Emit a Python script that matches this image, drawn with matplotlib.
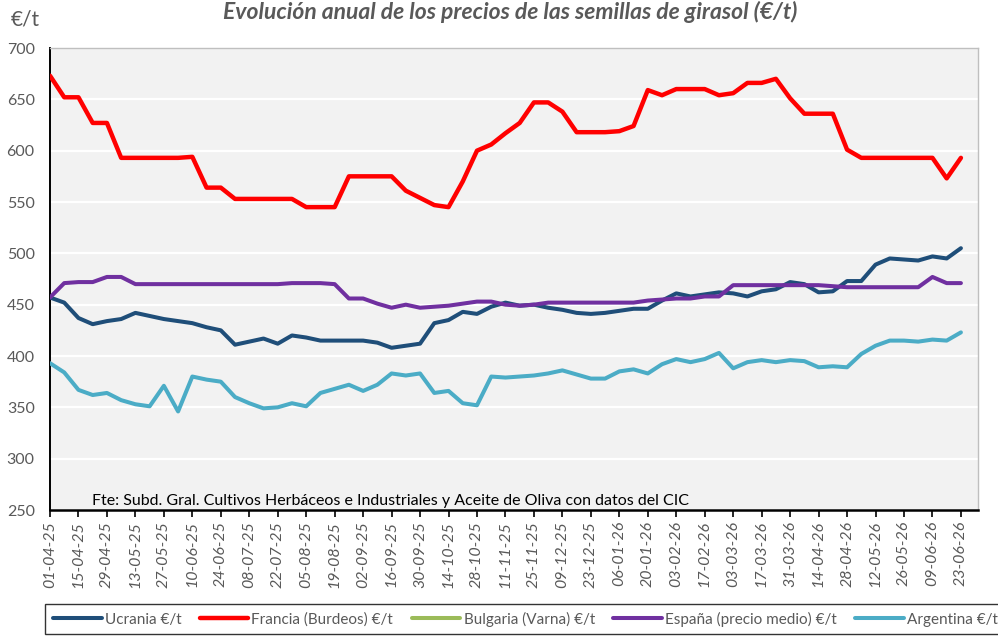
import matplotlib
matplotlib.use('Agg')
import matplotlib.pyplot as plt
import matplotlib.dates as mdates
import pandas as pd

# weekly quotes, 01-04-25 .. 23-06-26
fechas = pd.date_range('2025-04-01', periods=65, freq='7D')

ucrania = [457, 452, 437, 431, 434, 436, 442, 439, 436, 434, 432, 428, 425,
           411, 414, 417, 412, 420, 418, 415, 415, 415, 415, 413, 408, 410,
           412, 432, 435, 443, 441, 448, 452, 449, 450, 447, 445, 442, 441,
           442, 444, 446, 446, 454, 461, 458, 460, 462, 461, 458, 463, 465,
           472, 470, 462, 463, 473, 473, 489, 495, 494, 493, 497, 495, 505]
francia = [673, 652, 652, 627, 627, 593, 593, 593, 593, 593, 594, 564, 564,
           553, 553, 553, 553, 553, 545, 545, 545, 575, 575, 575, 575, 561,
           554, 547, 545, 570, 600, 606, 617, 627, 647, 647, 638, 618, 618,
           618, 619, 624, 659, 654, 660, 660, 660, 654, 656, 666, 666, 670,
           651, 636, 636, 636, 601, 593, 593, 593, 593, 593, 593, 573, 593]
bulgaria = []  # sin cotizaciones en el periodo
espana = [457, 471, 472, 472, 477, 477, 470, 470, 470, 470, 470, 470, 470,
          470, 470, 470, 470, 471, 471, 471, 470, 456, 456, 451, 447, 450,
          447, 448, 449, 451, 453, 453, 450, 449, 450, 452, 452, 452, 452,
          452, 452, 452, 454, 455, 456, 456, 458, 458, 469, 469, 469, 469,
          469, 469, 469, 468, 467, 467, 467, 467, 467, 467, 477, 471, 471]
argentina = [393, 384, 367, 362, 364, 357, 353, 351, 371, 346, 380, 377, 375,
             360, 354, 349, 350, 354, 351, 364, 368, 372, 366, 372, 383, 381,
             383, 364, 366, 354, 352, 380, 379, 380, 381, 383, 386, 382, 378,
             378, 385, 387, 383, 392, 397, 394, 397, 403, 388, 394, 396, 394,
             396, 395, 389, 390, 389, 402, 410, 415, 415, 414, 416, 415, 423]

series = [
    ('Ucrania €/t', ucrania, '#1F4E79'),
    ('Francia (Burdeos) €/t', francia, '#FF0000'),
    ('Bulgaria (Varna) €/t', bulgaria, '#9BBB59'),
    ('España (precio medio) €/t', espana, '#7030A0'),
    ('Argentina €/t', argentina, '#4BACC6'),
]

plt.rcParams['font.family'] = ['Lato', 'DejaVu Sans']

fig = plt.figure(figsize=(9.98, 6.36), dpi=100)
W, H = 998, 636
ax = fig.add_axes([50 / W, 1 - 510 / H, (978 - 50) / W, (510 - 48) / H])
ax.set_facecolor('#F2F2F2')

for nombre, valores, color in series:
    lw = 3.2 if color == '#FF0000' else 2.9
    ax.plot(fechas[:len(valores)], valores, color=color, lw=lw,
            label=nombre, solid_joinstyle='round', solid_capstyle='round',
            zorder=3)

ax.set_ylim(250, 700)
ax.set_yticks(range(250, 701, 50))
ax.grid(axis='y', color='white', lw=1.6, zorder=1)
ax.set_axisbelow(True)
ax.tick_params(axis='y', length=0, labelsize=11.5, labelcolor='#595959',
               pad=11)

ax.set_xlim(fechas[0], fechas[0] + pd.Timedelta(days=7 * 65.2))
ax.set_xticks(fechas[::2])
ax.xaxis.set_major_formatter(mdates.DateFormatter('%d-%m-%y'))
ax.tick_params(axis='x', direction='out', length=5, width=1.2, color='black',
               labelsize=11.5, labelcolor='#595959', pad=3)
for lab in ax.get_xticklabels():
    lab.set_rotation(90)
    lab.set_fontstyle('italic')

for lado in ['top', 'right']:
    ax.spines[lado].set_color('#BFBFBF')
    ax.spines[lado].set_linewidth(1.0)
ax.spines['left'].set_color('black')
ax.spines['left'].set_linewidth(1.4)
ax.spines['bottom'].set_color('black')
ax.spines['bottom'].set_linewidth(1.8)

fig.text(92 / W, 1 - 505 / H,
         'Fte: Subd. Gral. Cultivos Herbáceos e Industriales y Aceite de Oliva con datos del CIC',
         fontsize=11.5, color='black', va='baseline', ha='left')

fig.text(510 / W, 1 - 12 / H,
         'Evolución anual de los precios de las semillas de girasol (€/t)',
         ha='center', va='center', fontsize=16.5, fontweight='bold',
         fontstyle='italic', color='#595959')
fig.text(11 / W, 1 - 20 / H, '€/t', ha='left', va='center', fontsize=15,
         color='#595959')

leg = fig.legend(loc='upper left', bbox_to_anchor=(45 / W, 1 - 604 / H),
                 ncol=5, fontsize=11, frameon=True, fancybox=False,
                 handlelength=3.2, handletextpad=0.2, columnspacing=1.2,
                 borderpad=0.5, borderaxespad=0)
leg.get_frame().set_edgecolor('black')
leg.get_frame().set_linewidth(1.0)
for t in leg.get_texts():
    t.set_color('#595959')

fig.savefig('out.png', dpi=100)
